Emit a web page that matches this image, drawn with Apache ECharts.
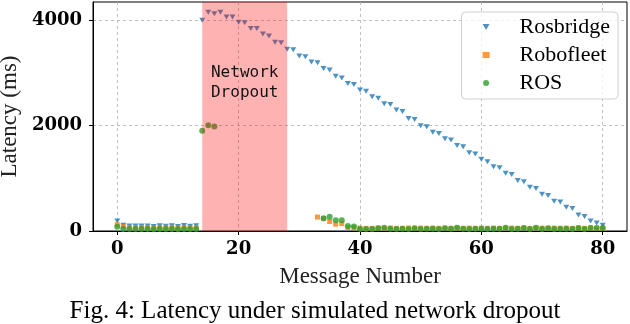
<!DOCTYPE html>
<html>
<head>
<meta charset="utf-8">
<script src="https://cdn.jsdelivr.net/npm/echarts@6/dist/echarts.min.js"></script>
<style>
  html, body { margin: 0; padding: 0; background: #fff; }
  #main { width: 630px; height: 324px; }
</style>
</head>
<body>
<div id="main"></div>
<script>
// latency (ms) per message number 0..80, null = no message received
const rosbridgeLatency = [
  190, 110, 95, 95, 95, 95, 85, 100, 90, 100, 85, 105, 90, 100,
  4000, 4150, 4120, 4150, 4060, 4060, 3960, 3950, 3840, 3840,
  3740, 3700, 3580, 3570, 3450, 3440, 3320, 3305, 3205, 3190,
  3085, 3055, 2935, 2905, 2800, 2780, 2675, 2650, 2545, 2520,
  2415, 2400, 2295, 2265, 2135, 2115, 1995, 1980, 1875, 1850,
  1750, 1725, 1620, 1600, 1485, 1460, 1360, 1315, 1220, 1200,
  1095, 1070, 960, 935, 830, 805, 695, 675, 565, 550,
  450, 425, 305, 275, 190, 150, 110
];
const robofleetLatency = [
  120, 85, 60, 60, 65, 60, 55, 60, 55, 70, 55, 65, 55, 60,
  null, null, null, null, null, null, null, null, null, null,
  null, null, null, null, null, null, null, null, null,
  265, 235, 180, 130, 140, 65, 65,
  55, 50, 50, 55, 50, 55, 50, 50, 55, 50, 55, 50, 55, 50,
  55, 50, 55, 50, 55, 50, 55, 50, 55, 50, 55, 55, 50, 55,
  50, 55, 55, 50, 55, 50, 55, 50, 55, 50, 55, 50, 50
];
const rosLatency = [
  80, 40, 40, 40, 40, 40, 35, 40, 40, 40, 35, 40, 40, 40,
  1900, 2005, 1985,
  null, null, null, null, null, null, null, null, null, null,
  null, null, null, null, null, null, null,
  240, 270, 205, 205, 95, 85,
  40, 40, 40, 50, 60, 45, 40, 45, 40, 50, 40, 45, 45, 40,
  50, 45, 60, 45, 40, 45, 45, 40, 45, 45, 60, 40, 45, 55,
  40, 60, 40, 50, 40, 45, 45, 40, 55, 40, 55, 55, 55
];
const seriesNames = ['Rosbridge', 'Robofleet', 'ROS'];
const xTicks = [0, 20, 40, 60, 80];
const yTicks = [0, 2000, 4000];
const dropoutStart = 14;
const dropoutEnd = 28;

const colors = ['#1f77b4', '#ff7f0e', '#2ca02c'];
const triDown = 'path://M0,0L10,0L5,8.66Z';

// [index, value] pairs, skipping missing messages
function toPoints(values) {
  return values.map((v, i) => (v == null ? null : [i, v])).filter(p => p);
}

const serifFont = 'Liberation Serif';
const tickFont = { fontFamily: 'DejaVu Serif', fontWeight: 'bold', fontSize: 18, color: '#000' };

var myChart = echarts.init(document.getElementById('main'));

const option = {
  animation: false,
  title: {
    text: 'Fig. 4: Latency under simulated network dropout',
    left: 'center',
    top: 294,
    textStyle: { fontFamily: serifFont, fontWeight: 'normal', fontSize: 25, color: '#000' }
  },
  grid: {
    left: 93, right: 3, top: 2, bottom: 93,
    outerBoundsMode: 'none',
    containLabel: false,
    show: true, borderColor: '#000', borderWidth: 1, backgroundColor: 'transparent'
  },
  legend: {
    orient: 'vertical',
    right: 12,
    top: 12,
    padding: [4, 8, 5, 21],
    itemGap: 6,
    itemWidth: 7,
    itemHeight: 6,
    backgroundColor: 'rgba(255,255,255,0.8)',
    borderColor: '#d0d0d0',
    borderWidth: 1,
    borderRadius: 4,
    z: 20,
    textStyle: { fontFamily: serifFont, fontSize: 22, lineHeight: 22, color: '#000', padding: [0, 0, 0, 25] },
    data: [
      { name: seriesNames[0], icon: triDown },
      { name: seriesNames[1], icon: 'rect' },
      { name: seriesNames[2], icon: 'circle' }
    ]
  },
  xAxis: {
    type: 'value',
    min: -4,
    max: 84,
    name: 'Message Number',
    nameLocation: 'middle',
    nameGap: 34,
    nameTextStyle: { fontFamily: serifFont, fontSize: 23, color: '#222' },
    axisLine: { show: true, onZero: false, lineStyle: { color: '#000' } },
    axisTick: { show: true, length: 4, customValues: xTicks, lineStyle: { color: '#000' } },
    axisLabel: Object.assign({ margin: 9, customValues: xTicks }, tickFont),
    splitLine: { show: true, lineStyle: { color: '#b0b0b0', type: [3, 3], width: 0.8 } }
  },
  yAxis: {
    type: 'value',
    min: 0,
    max: 4345,
    name: 'Latency (ms)',
    nameLocation: 'middle',
    nameGap: 68,
    nameTextStyle: { fontFamily: serifFont, fontSize: 23, color: '#222' },
    axisLine: { show: true, onZero: false, lineStyle: { color: '#000' } },
    axisTick: { show: true, length: 4, customValues: yTicks, lineStyle: { color: '#000' } },
    axisLabel: Object.assign({ margin: 11, customValues: yTicks, formatter: v => String(v) }, tickFont),
    splitLine: { show: true, lineStyle: { color: '#b0b0b0', type: [3, 3], width: 0.8 } }
  },
  series: [
    {
      name: seriesNames[0],
      type: 'scatter',
      symbol: triDown,
      symbolSize: [6, 5],
      itemStyle: { color: colors[0] },
      data: toPoints(rosbridgeLatency)
    },
    {
      name: seriesNames[1],
      type: 'scatter',
      symbol: 'rect',
      symbolSize: 5,
      itemStyle: { color: colors[1] },
      data: toPoints(robofleetLatency)
    },
    {
      name: seriesNames[2],
      type: 'scatter',
      symbol: 'circle',
      symbolSize: 6,
      itemStyle: { color: colors[2] },
      data: toPoints(rosLatency)
    },
    {
      // shaded dropout window, drawn over the markers like axvspan
      type: 'scatter',
      data: [],
      silent: true,
      markArea: {
        silent: true,
        z: 5,
        itemStyle: { color: 'rgba(255,0,0,0.3)' },
        label: {
          show: true,
          position: 'insideTop',
          distance: 61,
          formatter: 'Network\nDropout',
          fontFamily: 'DejaVu Sans Mono',
          fontSize: 16,
          lineHeight: 20,
          color: '#111'
        },
        data: [[{ xAxis: dropoutStart }, { xAxis: dropoutEnd }]]
      }
    }
  ]
};

myChart.setOption(option);
</script>
</body>
</html>
